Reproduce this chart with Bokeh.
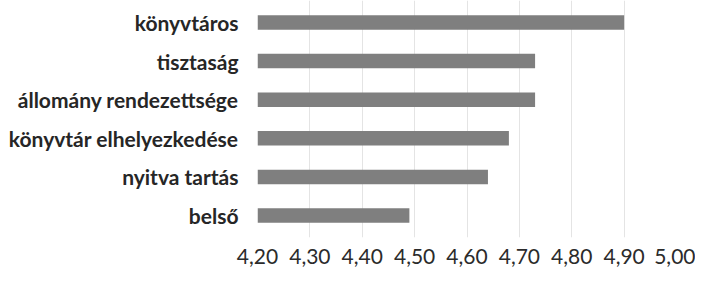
from bokeh.plotting import figure
from bokeh.models import FactorRange, Range1d, FixedTicker
from bokeh.embed import file_html
from bokeh.resources import INLINE

categories = ["könyvtáros", "tisztaság", "állomány rendezettsége",
              "könyvtár elhelyezkedése", "nyitva tartás", "belső"]
values = [4.90, 4.73, 4.73, 4.68, 4.64, 4.49]
tick_values = [4.20, 4.30, 4.40, 4.50, 4.60, 4.70, 4.80, 4.90, 5.00]
tick_labels = ["4,20", "4,30", "4,40", "4,50", "4,60", "4,70", "4,80", "4,90", "5,00"]
x_start = 4.20
x_end = 5.00

y_range = FactorRange(factors=list(reversed(categories)), range_padding=0.0233)

p = figure(width=695, height=276, y_range=y_range, x_range=Range1d(x_start, x_end),
           output_backend="svg", toolbar_location=None,
           min_border_left=257, min_border_right=19, min_border_top=0, min_border_bottom=39)

p.hbar(y=categories, left=x_start, right=values, height=0.375,
       fill_color="#7f7f7f", line_color=None)

p.outline_line_color = None
p.background_fill_color = "white"
p.border_fill_color = "white"

xa = p.xaxis[0]
xa.ticker = FixedTicker(ticks=tick_values)
xa.major_label_overrides = {v: l for v, l in zip(tick_values, tick_labels)}
xa.axis_line_color = None
xa.major_tick_line_color = None
xa.minor_tick_line_color = None
xa.major_tick_out = 0
xa.major_tick_in = 0
xa.major_label_standoff = 11
xa.major_label_text_font = "Lato"
xa.major_label_text_font_size = "21px"
xa.major_label_text_color = "#2b2b2b"

ya = p.yaxis[0]
ya.axis_line_color = None
ya.major_tick_line_color = None
ya.minor_tick_line_color = None
ya.major_tick_out = 0
ya.major_tick_in = 0
ya.major_label_standoff = 19
ya.major_label_text_font = "Lato"
ya.major_label_text_font_style = "bold"
ya.major_label_text_font_size = "21px"
ya.major_label_text_color = "#262626"

p.xgrid.ticker = FixedTicker(ticks=tick_values)
p.xgrid.grid_line_color = "#e4e4e4"
p.ygrid.grid_line_color = None

open("out.html", "w").write(file_html(p, INLINE))
